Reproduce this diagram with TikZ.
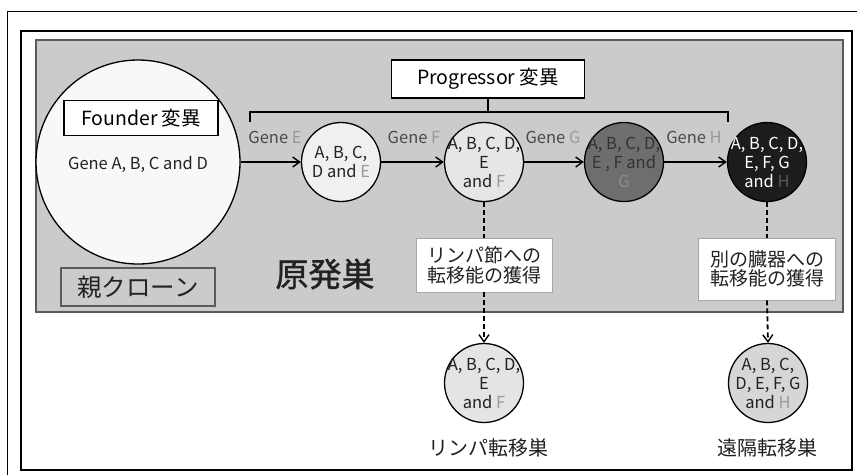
\documentclass[tikz,border=0pt]{standalone}
\usepackage{fontspec}
\setmainfont{Noto Sans CJK JP}
\newfontfamily\medfont[FakeBold=1.2]{Noto Sans CJK JP}
\usetikzlibrary{arrows.meta}
\definecolor{bggray}{HTML}{CBCBCB}
\definecolor{bgedge}{HTML}{5A5A5A}
\definecolor{genedark}{HTML}{4A4A4A}
\definecolor{genelight}{HTML}{9A9A9A}
\definecolor{txt}{HTML}{222222}
\definecolor{fillA}{HTML}{F8F8F8}
\definecolor{fillB}{HTML}{F0F0F0}
\definecolor{fillC}{HTML}{E4E4E4}
\definecolor{fillD}{HTML}{6E6E6E}
\definecolor{fillE}{HTML}{1C1C1C}
\definecolor{fillF}{HTML}{E6E6E6}
\definecolor{fillG}{HTML}{D6D6D6}
\newcommand{\gl}[1]{\textcolor{genelight}{#1}}
\begin{document}
\begin{tikzpicture}[x=1pt,y=-1pt,
  clone/.style={circle,draw=black,line width=1.3pt,inner sep=0pt,minimum size=79pt},
  ctext/.style={align=center,text=txt,font=\fontsize{16.5}{19}\selectfont},
  genelbl/.style={text=genedark,font=\fontsize{16.5}{18}\selectfont,inner sep=0pt},
  titlebox/.style={draw=black,line width=1.6pt,fill=white,inner sep=0pt,font=\fontsize{19.5}{22}\selectfont},
  notebox/.style={draw=gray!70,line width=0.8pt,fill=white,inner sep=0pt,align=center,text=txt,font=\fontsize{19}{19.5}\selectfont},
  flow/.style={line width=1.3pt,-{Straight Barb[length=7pt,width=10pt,line width=1.4pt]}},
  dashflow/.style={line width=1.8pt,dash pattern=on 5pt off 3pt},
  dasharrow/.style={dashflow,-{Straight Barb[length=7pt,width=10pt,line width=1.4pt]}}
]
\useasboundingbox (0,0) rectangle (857,475);
\fill[white] (0,0) rectangle (857,475);
% frames
\draw[line width=0.8pt] (7,475) -- (7,11) -- (857,11);
\draw[line width=2pt] (21,31) rectangle (852,470);
\draw[draw=bgedge,fill=bggray,line width=1.5pt] (36,40) rectangle (843,312);

% founder clone
\node[circle,draw=black,line width=1.3pt,fill=fillA,inner sep=0pt,minimum size=204pt] (founder) at (138,162) {};
\node[titlebox,minimum width=154pt,minimum height=35pt] (fbox) at (141,118) {Founder 変異};
\node[text=txt,font=\fontsize{16.5}{18}\selectfont] (fgenes) at (138,164) {Gene A, B, C and D};
\node[draw=bgedge,line width=1.2pt,fill=bggray,minimum width=154pt,minimum height=38pt,inner sep=0pt,text=txt,font=\fontsize{24.5}{26}\selectfont] (parent) at (138,287) {親クローン};
\node[text=txt,font=\fontsize{33}{35}\selectfont\medfont] (primary) at (325,274) {原発巣};

% progressor
\node[titlebox,minimum width=193pt,minimum height=38pt] (pbox) at (488,79) {Progressor 変異};
\coordinate (brL) at (250,122);
\coordinate (brR) at (728,122);
\draw[line width=1.2pt] (brL) -- ++(0,-10) -- ([yshift=10pt]brR) -- (brR);
\draw[line width=1.2pt] (pbox.south) -- ++(0,14);

% clones
\node[clone,fill=fillB] (c1) at (341,162) {};
\node[ctext] at (c1) {A, B, C,\\D and \gl{E}};
\node[clone,fill=fillF] (c2) at (484,162) {};
\node[ctext] at (c2) {A, B, C, D,\\E\\and \gl{F}};
\node[clone,fill=fillD] (c3) at (624,162) {};
\node[ctext,text=black!80] at (c3) {A, B, C, D,\\E , F and\\\textcolor{black!45}{G}};
\node[clone,fill=fillE] (c4) at (767,162) {};
\node[ctext,text=white] at (c4) {A, B, C, D,\\E, F, G\\and \textcolor{black!65}{H}};

\draw[flow] (founder.east) -- (c1.west);
\draw[flow] (c1.east) -- (c2.west);
\draw[flow] (c2.east) -- (c3.west);
\draw[flow] (c3.east) -- (c4.west);

\node[genelbl] (gE) at (275,137) {Gene \gl{E}};
\node[genelbl] (gF) at (414,137) {Gene \gl{F}};
\node[genelbl] (gG) at (553,137) {Gene \gl{G}};
\node[genelbl] (gH) at (694,137) {Gene \gl{H}};

% metastasis
\node[notebox,minimum width=136pt,minimum height=54pt] (lbox) at (484,265) {リンパ節への\\転移能の獲得};
\node[notebox,minimum width=137pt,minimum height=62pt] (rbox) at (767,269) {別の臓器への\\転移能の獲得};

\node[clone,fill=fillC] (l1) at (484,383) {};
\node[ctext] at (l1) {A, B, C, D,\\E\\and \gl{F}};
\node[clone,fill=fillG] (l2) at (768,383) {};
\node[ctext] at (l2) {A, B, C,\\D, E, F, G\\and \gl{H}};

\draw[dashflow] (c2.south) -- (lbox.north);
\draw[dasharrow] (lbox.south) -- (l1.north);
\draw[dashflow] (c4.south) -- (rbox.north);
\draw[dasharrow] (rbox.south) -- (l2.north);

\node[text=txt,font=\fontsize{20}{22}\selectfont] (lname) at (488,448) {リンパ転移巣};
\node[text=txt,font=\fontsize{20}{22}\selectfont] (rname) at (767,448) {遠隔転移巣};
\end{tikzpicture}
\end{document}
